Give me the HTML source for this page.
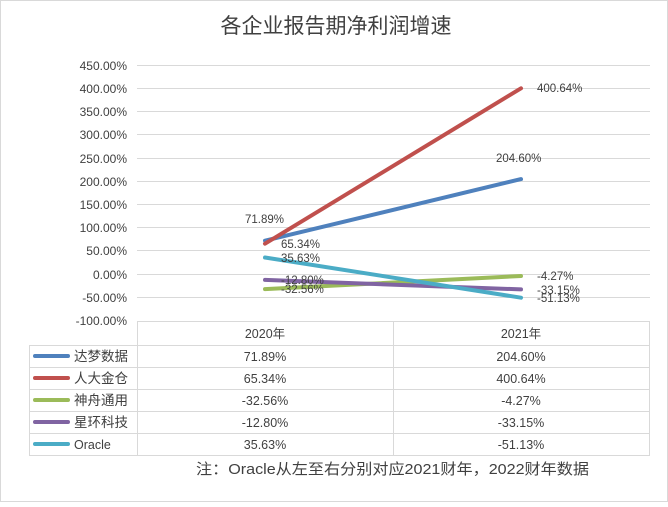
<!DOCTYPE html><html><head><meta charset="utf-8"><style>
body{margin:0;background:#fff}
text{font-family:"Liberation Sans","Noto Sans CJK SC",sans-serif;fill:#404040}
</style></head><body>
<svg width="668" height="502" viewBox="0 0 668 502" xmlns="http://www.w3.org/2000/svg">
<rect x="0.5" y="0.5" width="667" height="501" fill="#fff" stroke="#d9d9d9"/>
<text x="336" y="33" font-size="21" text-anchor="middle" fill="#595959">各企业报告期净利润增速</text>
<g stroke="#d9d9d9" stroke-width="1">
<line x1="137" x2="650" y1="65.5" y2="65.5"/><line x1="137" x2="650" y1="88.5" y2="88.5"/><line x1="137" x2="650" y1="111.5" y2="111.5"/><line x1="137" x2="650" y1="134.5" y2="134.5"/><line x1="137" x2="650" y1="158.5" y2="158.5"/><line x1="137" x2="650" y1="181.5" y2="181.5"/><line x1="137" x2="650" y1="204.5" y2="204.5"/><line x1="137" x2="650" y1="227.5" y2="227.5"/><line x1="137" x2="650" y1="250.5" y2="250.5"/><line x1="137" x2="650" y1="274.5" y2="274.5"/><line x1="137" x2="650" y1="297.5" y2="297.5"/>
<line x1="137" x2="650" y1="321.5" y2="321.5"/>
<line x1="29" x2="650" y1="345.5" y2="345.5"/><line x1="29" x2="650" y1="367.5" y2="367.5"/><line x1="29" x2="650" y1="389.5" y2="389.5"/><line x1="29" x2="650" y1="411.5" y2="411.5"/><line x1="29" x2="650" y1="433.5" y2="433.5"/><line x1="29" x2="650" y1="455.5" y2="455.5"/>
<line x1="29.5" x2="29.5" y1="345" y2="456"/><line x1="137.5" x2="137.5" y1="321" y2="456"/><line x1="393.5" x2="393.5" y1="321" y2="456"/><line x1="649.5" x2="649.5" y1="321" y2="456"/>
</g>
<g font-size="12" text-anchor="end">
<text x="127" y="70">450.00%</text><text x="127" y="93">400.00%</text><text x="127" y="116">350.00%</text><text x="127" y="139">300.00%</text><text x="127" y="163">250.00%</text><text x="127" y="186">200.00%</text><text x="127" y="209">150.00%</text><text x="127" y="232">100.00%</text><text x="127" y="255">50.00%</text><text x="127" y="279">0.00%</text><text x="127" y="302">-50.00%</text><text x="127" y="325">-100.00%</text>
</g>
<g stroke-width="4" stroke-linecap="round" fill="none">
<line x1="265" y1="240.7" x2="521" y2="179.1" stroke="#4f81bd"/>
<line x1="265" y1="243.7" x2="521" y2="88.3" stroke="#c0504d"/>
<line x1="265" y1="289.1" x2="521" y2="276" stroke="#9bbb59"/>
<line x1="265" y1="279.9" x2="521" y2="289.4" stroke="#8064a2"/>
<line x1="265" y1="257.5" x2="521" y2="297.7" stroke="#4bacc6"/>
</g>
<g font-size="11.5">
<text x="245" y="223">71.89%</text><text x="281" y="248">65.34%</text><text x="281" y="262">35.63%</text><text x="281" y="284">-12.80%</text><text x="281" y="293">-32.56%</text>
<text x="496" y="162">204.60%</text><text x="537" y="92">400.64%</text><text x="537" y="280">-4.27%</text><text x="537" y="294">-33.15%</text><text x="537" y="302">-51.13%</text>
</g>
<g font-size="12.5" text-anchor="middle">
<text x="265" y="338">2020年</text><text x="521" y="338">2021年</text>
<text x="265" y="361">71.89%</text><text x="521" y="361">204.60%</text>
<text x="265" y="383">65.34%</text><text x="521" y="383">400.64%</text>
<text x="265" y="405">-32.56%</text><text x="521" y="405">-4.27%</text>
<text x="265" y="427">-12.80%</text><text x="521" y="427">-33.15%</text>
<text x="265" y="449">35.63%</text><text x="521" y="449">-51.13%</text>
</g>
<g stroke-width="4" stroke-linecap="round">
<line x1="35" x2="68" y1="356" y2="356" stroke="#4f81bd"/>
<line x1="35" x2="68" y1="378" y2="378" stroke="#c0504d"/>
<line x1="35" x2="68" y1="400" y2="400" stroke="#9bbb59"/>
<line x1="35" x2="68" y1="422" y2="422" stroke="#8064a2"/>
<line x1="35" x2="68" y1="444" y2="444" stroke="#4bacc6"/>
</g>
<g font-size="13.5">
<text x="74" y="361">达梦数据</text><text x="74" y="383">人大金仓</text><text x="74" y="405">神舟通用</text><text x="74" y="427">星环科技</text><text x="74" y="449" font-size="12.5">Oracle</text>
</g>
<text x="196" y="474" font-size="15" textLength="393" lengthAdjust="spacingAndGlyphs" fill="#404040">注：Oracle从左至右分别对应2021财年，2022财年数据</text>
</svg>
</body></html>
